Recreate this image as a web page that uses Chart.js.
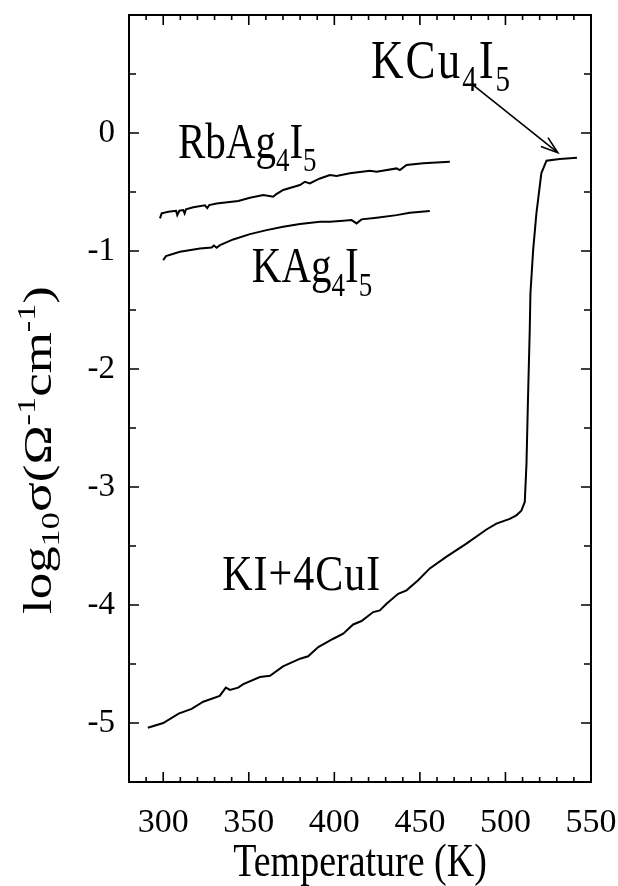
<!DOCTYPE html>
<html>
<head>
<meta charset="utf-8">
<script src="https://cdn.jsdelivr.net/npm/chart.js@4.4.1/dist/chart.umd.min.js"></script>
<style>
  html, body { margin: 0; padding: 0; background: #fff; }
  #wrap { width: 618px; height: 886px; }
</style>
</head>
<body>
<div id="wrap"><canvas id="c" width="618" height="886"></canvas></div>
<script>
// ---- data ----
const xTickValues = [300, 350, 400, 450, 500, 550];
const yTickValues = [-5, -4, -3, -2, -1, 0];

const kiCuiTemp = [291, 300, 309, 316.6, 323.4, 333, 336.6, 339, 343.8, 346.8, 356.5, 362.4, 370, 380, 384.7, 390.6, 399.4, 405.2, 411, 415.9, 422.7, 426.6, 430.5, 437.3, 442.2, 449, 455.8, 465.6, 477.2, 488.9, 494.7, 502.5, 506.4, 509.3, 511.3, 512.3, 513.2, 514.2, 514.6, 516.2, 518.1, 521, 524, 531.7, 541.8];
const kiCuiLog  = [-5.04, -5.0, -4.92, -4.88, -4.82, -4.77, -4.70, -4.72, -4.70, -4.67, -4.61, -4.60, -4.52, -4.455, -4.435, -4.357, -4.286, -4.243, -4.165, -4.136, -4.06, -4.046, -3.99, -3.905, -3.876, -3.79, -3.69, -3.59, -3.48, -3.36, -3.31, -3.27, -3.24, -3.20, -3.127, -2.80, -2.24, -1.67, -1.36, -0.99, -0.68, -0.34, -0.235, -0.22, -0.21];

const rbTemp = [298.1, 299.1, 303, 307.5, 308.2, 309.4, 311.7, 312.5, 313.3, 317.6, 324.4, 325.7, 326.9, 331.2, 343.8, 350.7, 358.5, 364.3, 365.9, 370.1, 379.9, 382.8, 385.7, 388.6, 391.6, 397.4, 401.3, 409.1, 420.8, 424.7, 436.4, 438.3, 442.2, 451.9, 467.5];
const rbLog  = [-0.724, -0.681, -0.667, -0.659, -0.696, -0.659, -0.653, -0.681, -0.647, -0.630, -0.613, -0.636, -0.611, -0.597, -0.577, -0.549, -0.526, -0.540, -0.520, -0.483, -0.441, -0.413, -0.427, -0.405, -0.385, -0.356, -0.365, -0.342, -0.320, -0.328, -0.300, -0.314, -0.271, -0.257, -0.243];

const kTemp = [300, 301.6, 309.8, 321.5, 328.3, 329.6, 331.2, 333.2, 340.9, 350.7, 360.4, 370.1, 379.9, 391.6, 397.4, 405.2, 410.1, 413, 415.9, 424.7, 436.4, 444.1, 455.8];
const kLog  = [-1.077, -1.043, -1.006, -0.978, -0.970, -0.953, -0.972, -0.950, -0.902, -0.857, -0.823, -0.795, -0.772, -0.752, -0.752, -0.744, -0.738, -0.766, -0.732, -0.718, -0.696, -0.676, -0.662];

// arrow for KCu4I5 label (data coords: start, tip)
const arrowFrom = [481, 0.407];
const arrowTo = [530.6, -0.167];

const FONT = "'Liberation Serif', 'Times New Roman', serif";
const SY = 1.22; // vertical stretch of the scanned figure text

function pts(xs, ys) { return xs.map((x, i) => ({ x: x, y: ys[i] })); }

function drawRich(ctx, parts, x, y, align, spacing) {
  ctx.letterSpacing = (spacing || 0) + 'px';
  let total = 0;
  parts.forEach(p => { ctx.font = p.s + 'px ' + FONT; total += ctx.measureText(p.t).width; });
  let cx = align === 'center' ? x - total / 2 : x;
  parts.forEach(p => {
    ctx.font = p.s + 'px ' + FONT;
    ctx.fillText(p.t, cx, y + (p.dy || 0));
    cx += ctx.measureText(p.t).width;
  });
  ctx.letterSpacing = '0px';
}

const decor = {
  id: 'decor',
  afterDraw(chart) {
    const ctx = chart.ctx;
    const a = chart.chartArea;
    const xs = chart.scales.x, ys = chart.scales.y;
    ctx.save();
    ctx.strokeStyle = '#000';
    ctx.fillStyle = '#000';
    // frame
    ctx.lineWidth = 2;
    ctx.strokeRect(a.left, a.top, a.right - a.left, a.bottom - a.top);
    // x ticks (inward, bottom and top)
    ctx.lineWidth = 1.6;
    for (let v = 290; v <= 550; v += 10) {
      const px = xs.getPixelForValue(v);
      const len = (v % 50 === 0) ? 10 : 5;
      ctx.beginPath();
      ctx.moveTo(px, a.bottom); ctx.lineTo(px, a.bottom - len);
      ctx.moveTo(px, a.top); ctx.lineTo(px, a.top + len);
      ctx.stroke();
    }
    // y ticks (inward, left and right)
    for (let v = -5; v <= 0.5; v += 0.5) {
      const py = ys.getPixelForValue(v);
      const len = Number.isInteger(v) ? 10 : 7;
      ctx.beginPath();
      ctx.moveTo(a.left, py); ctx.lineTo(a.left + len, py);
      ctx.moveTo(a.right, py); ctx.lineTo(a.right - len, py);
      ctx.stroke();
    }
    // arrow
    const x1 = xs.getPixelForValue(arrowFrom[0]), y1 = ys.getPixelForValue(arrowFrom[1]);
    const x2 = xs.getPixelForValue(arrowTo[0]), y2 = ys.getPixelForValue(arrowTo[1]);
    ctx.lineWidth = 1.6;
    ctx.beginPath(); ctx.moveTo(x1, y1); ctx.lineTo(x2, y2); ctx.stroke();
    const ang = Math.atan2(y2 - y1, x2 - x1);
    const hl = 18, ha = 0.32;
    ctx.beginPath();
    ctx.moveTo(x2 - hl * Math.cos(ang - ha), y2 - hl * Math.sin(ang - ha));
    ctx.lineTo(x2, y2);
    ctx.lineTo(x2 - hl * Math.cos(ang + ha), y2 - hl * Math.sin(ang + ha));
    ctx.stroke();

    // annotations
    ctx.textBaseline = 'alphabetic';
    ctx.textAlign = 'left';
    const sdy = 11;
    const labels = [
      { T: 308.6, v: -0.212, sp: 0, parts: [{t:'RbAg', s:41}, {t:'4', s:27, dy:sdy}, {t:'I', s:41}, {t:'5', s:27, dy:sdy}] },
      { T: 351.8, v: -1.264, sp: 0, parts: [{t:'KAg', s:41}, {t:'4', s:27, dy:sdy}, {t:'I', s:41}, {t:'5', s:27, dy:sdy}] },
      { T: 334.5, v: -3.876, sp: 1, parts: [{t:'KI+4CuI', s:42}] },
      { T: 421.5, v: 0.466, sp: 2, parts: [{t:'KCu', s:45}, {t:'4', s:29, dy:sdy}, {t:'I', s:45}, {t:'5', s:29, dy:sdy}] }
    ];
    labels.forEach(l => {
      const px = xs.getPixelForValue(l.T), py = ys.getPixelForValue(l.v);
      ctx.save();
      ctx.translate(px, py);
      ctx.scale(1, SY);
      drawRich(ctx, l.parts, 0, 0, 'left', l.sp);
      ctx.restore();
    });

    // x axis title
    ctx.save();
    ctx.translate((a.left + a.right) / 2, 876);
    ctx.scale(1, SY);
    drawRich(ctx, [{t:'Temperature (K)', s:38}], 0, 0, 'center');
    ctx.restore();

    // y axis title
    ctx.save();
    ctx.translate(51, 450);
    ctx.rotate(-Math.PI / 2);
    ctx.scale(1.32, 1);
    drawRich(ctx, [
      {t:'log', s:40}, {t:'10', s:26, dy:8}, {t:'\u03C3', s:42}, {t:'(', s:40}, {t:'\u03A9', s:40},
      {t:'-1', s:26, dy:-16}, {t:'cm', s:40}, {t:'-1', s:26, dy:-16}, {t:')', s:40}
    ], 0, 0, 'center');
    ctx.restore();

    ctx.restore();
  }
};

const lineStyle = { borderColor: '#000', borderWidth: 2, pointRadius: 0, fill: false, tension: 0, showLine: true };

function noPad(s) { s.paddingLeft = 0; s.paddingRight = 0; s.paddingTop = 0; s.paddingBottom = 0; }

new Chart(document.getElementById('c'), {
  type: 'scatter',
  data: {
    datasets: [
      Object.assign({ label: 'KI+4CuI', data: pts(kiCuiTemp, kiCuiLog) }, lineStyle),
      Object.assign({ label: 'RbAg4I5', data: pts(rbTemp, rbLog) }, lineStyle),
      Object.assign({ label: 'KAg4I5', data: pts(kTemp, kLog) }, lineStyle)
    ]
  },
  options: {
    responsive: false,
    devicePixelRatio: 1,
    animation: false,
    events: [],
    layout: { padding: { top: 15, right: 27, left: 0, bottom: 0 } },
    plugins: { legend: { display: false }, tooltip: { enabled: false } },
    scales: {
      x: {
        type: 'linear', min: 280, max: 550,
        afterBuildTicks: s => { s.ticks = xTickValues.map(v => ({ value: v })); },
        afterFit: s => { s.height = 104; noPad(s); },
        grid: { display: false, drawTicks: false },
        border: { display: false },
        ticks: { color: '#000', font: { family: FONT, size: 34 }, padding: 21, maxRotation: 0, autoSkip: false, callback: v => String(v) }
      },
      y: {
        type: 'linear', min: -5.5, max: 1,
        afterBuildTicks: s => { s.ticks = yTickValues.map(v => ({ value: v })); },
        afterFit: s => { s.width = 129; noPad(s); },
        grid: { display: false, drawTicks: false },
        border: { display: false },
        ticks: { color: '#000', font: { family: FONT, size: 33 }, padding: 14, autoSkip: false, callback: v => String(v) }
      }
    }
  },
  plugins: [decor]
});
</script>
</body>
</html>
